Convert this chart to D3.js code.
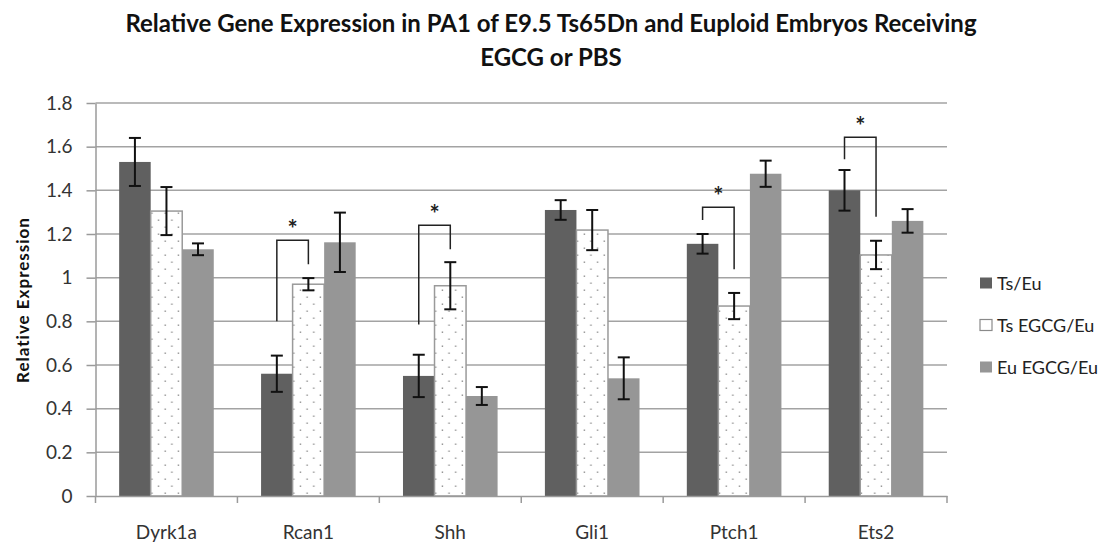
<!DOCTYPE html>
<html>
<head>
<meta charset="utf-8">
<script src="https://cdn.jsdelivr.net/npm/d3@7/dist/d3.min.js"></script>
<style>
  html, body { margin: 0; padding: 0; background: #fff; }
  svg { display: block; font-family: Lato, "Open Sans", sans-serif; }
</style>
</head>
<body>
<svg id="chart" width="1101" height="544"></svg>
<script>
// Genes on the x axis
const categories = ["Dyrk1a", "Rcan1", "Shh", "Gli1", "Ptch1", "Ets2"];
// Series names (legend order)
const seriesNames = ["Ts/Eu", "Ts EGCG/Eu", "Eu EGCG/Eu"];
// Mean relative expression per gene, one array per series
const tsEu      = [1.53, 0.56, 0.55, 1.31, 1.155, 1.40];
const tsEgcgEu  = [1.305, 0.97, 0.963, 1.218, 0.87, 1.104];
const euEgcgEu  = [1.13, 1.162, 0.458, 0.539, 1.476, 1.26];
// Error bar half-lengths (standard error)
const tsEuErr     = [0.11, 0.083, 0.097, 0.045, 0.045, 0.093];
const tsEgcgEuErr = [0.11, 0.028, 0.108, 0.092, 0.06, 0.065];
const euEgcgEuErr = [0.027, 0.136, 0.041, 0.096, 0.06, 0.054];
// Y axis tick values
const yTicks = [0, 0.2, 0.4, 0.6, 0.8, 1, 1.2, 1.4, 1.6, 1.8];
// Significance brackets between Ts/Eu and Ts EGCG/Eu
const sigCats      = ["Rcan1", "Shh", "Ptch1", "Ets2"];
const sigLeftFrom  = [0.80, 0.785, 1.264, 1.542];
const sigTop       = [1.171, 1.24, 1.322, 1.643];
const sigRightTo   = [1.061, 1.13, 1.038, 1.279];

const titleLines = ["Relative Gene Expression in PA1 of E9.5 Ts65Dn and Euploid Embryos Receiving", "EGCG or PBS"];
const yTitle = "Relative Expression";

const values = [tsEu, tsEgcgEu, euEgcgEu];
const errors = [tsEuErr, tsEgcgEuErr, euEgcgEuErr];
const fills = ["#606060", "url(#dots)", "#969696"];

const svg = d3.select("#chart");
const plot = { left: 95.5, right: 947, top: 103, bottom: 496 };

// Dotted fill for the Ts EGCG/Eu series
const defs = svg.append("defs");
const pat = defs.append("pattern").attr("id", "dots")
  .attr("patternUnits", "userSpaceOnUse").attr("width", 13.3).attr("height", 14);
pat.append("rect").attr("width", 13.3).attr("height", 14).attr("fill", "#fff");
pat.append("rect").attr("x", 2.5).attr("y", 2.5).attr("width", 1.4).attr("height", 1.4).attr("fill", "#8c8c8c");
pat.append("rect").attr("x", 9.2).attr("y", 9.5).attr("width", 1.4).attr("height", 1.4).attr("fill", "#8c8c8c");

const y = d3.scaleLinear().domain([0, 1.8]).range([plot.bottom, plot.top]);
const x0 = d3.scaleBand().domain(categories).range([plot.left, plot.right]).paddingInner(0).paddingOuter(0);
const x1 = d3.scaleBand().domain(d3.range(seriesNames.length))
  .range([x0.bandwidth() / 6, x0.bandwidth() * 5 / 6]).paddingInner(0).paddingOuter(0);
const bw = x1.bandwidth();

// Horizontal gridlines
svg.append("g").selectAll("line").data(yTicks.filter(d => d > 0)).join("line")
  .attr("x1", plot.left).attr("x2", plot.right)
  .attr("y1", d => y(d)).attr("y2", d => y(d))
  .attr("stroke", "#a3a3a3").attr("stroke-width", 1.5);

// Y axis
const yAxis = svg.append("g").attr("transform", `translate(${plot.left},0)`)
  .call(d3.axisLeft(y).tickValues(yTicks).tickSize(9).tickSizeOuter(0).tickPadding(14).tickFormat(d3.format("")));
yAxis.select(".domain").attr("stroke", "#9a9a9a").attr("stroke-width", 1.5);
yAxis.selectAll(".tick line").attr("stroke", "#9a9a9a").attr("stroke-width", 1.5);
yAxis.selectAll(".tick text").attr("fill", "#333").style("font-size", "19px").style("font-family", "Lato, sans-serif");

// Bars
const groups = svg.append("g").selectAll("g").data(categories).join("g")
  .attr("transform", d => `translate(${x0(d)},0)`);

seriesNames.forEach((s, si) => {
  groups.append("rect")
    .attr("x", x1(si)).attr("width", bw)
    .attr("y", (d, i) => y(values[si][i]))
    .attr("height", (d, i) => y(0) - y(values[si][i]))
    .attr("fill", fills[si])
    .attr("stroke", si === 1 ? "#9a9a9a" : "none")
    .attr("stroke-width", si === 1 ? 1.5 : 0);
});

// X axis
const xAxis = svg.append("g").attr("transform", `translate(0,${plot.bottom})`)
  .call(d3.axisBottom(x0).tickSize(0).tickPadding(30));
xAxis.select(".domain").attr("stroke", "#9a9a9a").attr("stroke-width", 1.5);
xAxis.selectAll(".tick text").attr("fill", "#333").style("font-size", "19px").style("font-family", "Lato, sans-serif");
// Category boundary ticks
const bounds = categories.map(c => x0(c)).concat([plot.right]);
xAxis.append("g").selectAll("line").data(bounds).join("line")
  .attr("x1", d => d).attr("x2", d => d).attr("y1", 0).attr("y2", 7)
  .attr("stroke", "#9a9a9a").attr("stroke-width", 1.5);

// Error bars
seriesNames.forEach((s, si) => {
  const eg = groups.append("g").attr("stroke", "#111").attr("stroke-width", 2);
  const cx = x1(si) + bw / 2;
  eg.append("line").attr("x1", cx).attr("x2", cx)
    .attr("y1", (d, i) => y(values[si][i] + errors[si][i]))
    .attr("y2", (d, i) => y(values[si][i] - errors[si][i]));
  eg.append("line").attr("x1", cx - 6).attr("x2", cx + 6)
    .attr("y1", (d, i) => y(values[si][i] + errors[si][i]))
    .attr("y2", (d, i) => y(values[si][i] + errors[si][i]));
  eg.append("line").attr("x1", cx - 6).attr("x2", cx + 6)
    .attr("y1", (d, i) => y(values[si][i] - errors[si][i]))
    .attr("y2", (d, i) => y(values[si][i] - errors[si][i]));
});

// Significance brackets
const sig = svg.append("g");
sigCats.forEach((c, k) => {
  const xl = x0(c) + x1(0) + bw / 2;
  const xr = x0(c) + x1(1) + bw / 2;
  sig.append("path")
    .attr("d", `M${xl},${y(sigLeftFrom[k])}V${y(sigTop[k])}H${xr}V${y(sigRightTo[k])}`)
    .attr("fill", "none").attr("stroke", "#222").attr("stroke-width", 1.5);
  sig.append("text")
    .attr("x", (xl + xr) / 2).attr("y", y(sigTop[k]) - 2)
    .attr("text-anchor", "middle")
    .style("font-size", "24px").style("font-weight", "bold").attr("fill", "#222")
    .text("*");
});

// Title
svg.append("g").selectAll("text").data(titleLines).join("text")
  .attr("x", 551).attr("y", (d, i) => 32 + i * 34)
  .attr("text-anchor", "middle")
  .style("font-size", "24px").style("font-weight", "bold").attr("fill", "#111")
  .text(d => d);

// Y axis title
svg.append("text")
  .attr("transform", `translate(22,${300}) rotate(-90)`)
  .attr("text-anchor", "middle").attr("dominant-baseline", "central")
  .style("font-size", "17px").style("font-weight", "bold").style("letter-spacing", "1px").attr("fill", "#111")
  .text(yTitle);

// Legend
const legend = svg.append("g").selectAll("g").data(seriesNames).join("g")
  .attr("transform", (d, i) => `translate(980,${283 + i * 42})`);
legend.append("rect").attr("x", 0).attr("y", -5.5).attr("width", 12).attr("height", 11)
  .attr("fill", (d, i) => i === 1 ? "#fff" : fills[i])
  .attr("stroke", (d, i) => i === 1 ? "#8a8a8a" : "none").attr("stroke-width", 1.2);
legend.append("text").attr("x", 17).attr("y", 0).attr("dominant-baseline", "central")
  .style("font-size", "18px").attr("fill", "#222").text(d => d);
</script>
</body>
</html>
